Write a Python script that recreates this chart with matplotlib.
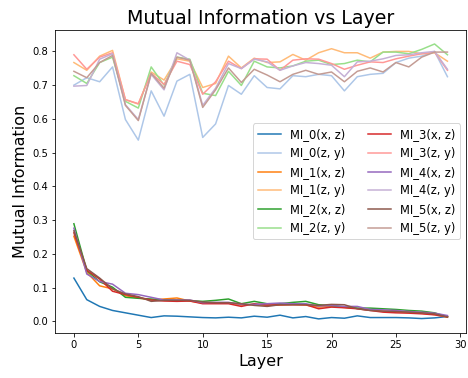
import numpy as np
import matplotlib
matplotlib.use('Agg')
import matplotlib.pyplot as plt

# data

layers = list(range(30))

mi0_xz = [0.128, 0.064, 0.044, 0.032, 0.025, 0.018, 0.011, 0.016, 0.015, 0.013,
          0.011, 0.010, 0.012, 0.010, 0.015, 0.012, 0.018, 0.010, 0.014, 0.007,
          0.011, 0.009, 0.016, 0.011, 0.011, 0.011, 0.010, 0.008, 0.010, 0.014]
mi0_zy = [0.700, 0.722, 0.710, 0.754, 0.598, 0.537, 0.683, 0.608, 0.712, 0.732,
          0.545, 0.585, 0.699, 0.673, 0.728, 0.693, 0.689, 0.728, 0.725, 0.732,
          0.728, 0.683, 0.725, 0.732, 0.735, 0.767, 0.780, 0.786, 0.800, 0.725]
mi1_xz = [0.252, 0.145, 0.105, 0.096, 0.076, 0.069, 0.063, 0.066, 0.069, 0.060,
          0.054, 0.054, 0.054, 0.048, 0.050, 0.047, 0.048, 0.050, 0.048, 0.042,
          0.044, 0.041, 0.038, 0.033, 0.030, 0.028, 0.026, 0.024, 0.020, 0.012]
mi1_zy = [0.767, 0.744, 0.786, 0.803, 0.657, 0.644, 0.739, 0.715, 0.778, 0.771,
          0.693, 0.705, 0.786, 0.751, 0.780, 0.767, 0.769, 0.791, 0.774, 0.796,
          0.808, 0.796, 0.796, 0.780, 0.798, 0.800, 0.800, 0.793, 0.796, 0.771]
mi2_xz = [0.289, 0.150, 0.117, 0.101, 0.071, 0.068, 0.066, 0.063, 0.062, 0.061,
          0.059, 0.062, 0.066, 0.052, 0.059, 0.052, 0.052, 0.056, 0.059, 0.049,
          0.046, 0.042, 0.039, 0.039, 0.037, 0.035, 0.032, 0.030, 0.025, 0.013]
mi2_zy = [0.728, 0.705, 0.767, 0.783, 0.652, 0.632, 0.754, 0.700, 0.783, 0.777,
          0.676, 0.669, 0.741, 0.699, 0.771, 0.754, 0.751, 0.757, 0.771, 0.774,
          0.761, 0.764, 0.774, 0.769, 0.798, 0.798, 0.793, 0.806, 0.822, 0.790]
mi3_xz = [0.262, 0.151, 0.125, 0.089, 0.079, 0.071, 0.063, 0.060, 0.059, 0.060,
          0.052, 0.052, 0.052, 0.044, 0.052, 0.048, 0.049, 0.049, 0.049, 0.037,
          0.042, 0.040, 0.037, 0.032, 0.027, 0.025, 0.024, 0.022, 0.019, 0.013]
mi3_zy = [0.790, 0.747, 0.783, 0.796, 0.657, 0.645, 0.735, 0.702, 0.771, 0.761,
          0.673, 0.710, 0.771, 0.749, 0.778, 0.777, 0.744, 0.774, 0.778, 0.777,
          0.764, 0.747, 0.759, 0.769, 0.767, 0.778, 0.786, 0.793, 0.798, 0.744]
mi4_xz = [0.276, 0.140, 0.118, 0.110, 0.083, 0.079, 0.071, 0.063, 0.063, 0.063,
          0.055, 0.056, 0.056, 0.050, 0.050, 0.052, 0.054, 0.052, 0.052, 0.045,
          0.047, 0.044, 0.044, 0.035, 0.034, 0.032, 0.029, 0.027, 0.024, 0.017]
mi4_zy = [0.697, 0.699, 0.777, 0.793, 0.642, 0.598, 0.732, 0.686, 0.796, 0.774,
          0.640, 0.691, 0.764, 0.749, 0.777, 0.769, 0.744, 0.757, 0.767, 0.764,
          0.759, 0.725, 0.769, 0.771, 0.778, 0.788, 0.790, 0.796, 0.800, 0.747]
mi5_xz = [0.268, 0.156, 0.128, 0.096, 0.081, 0.073, 0.059, 0.062, 0.062, 0.062,
          0.057, 0.055, 0.055, 0.052, 0.047, 0.044, 0.049, 0.049, 0.049, 0.047,
          0.050, 0.049, 0.037, 0.032, 0.030, 0.029, 0.027, 0.025, 0.022, 0.013]
mi5_zy = [0.741, 0.722, 0.767, 0.788, 0.640, 0.595, 0.735, 0.691, 0.783, 0.774,
          0.634, 0.686, 0.751, 0.708, 0.747, 0.730, 0.710, 0.732, 0.744, 0.732,
          0.739, 0.710, 0.741, 0.751, 0.739, 0.767, 0.754, 0.783, 0.798, 0.798]

series = [(mi0_xz, mi0_zy), (mi1_xz, mi1_zy), (mi2_xz, mi2_zy),
          (mi3_xz, mi3_zy), (mi4_xz, mi4_zy), (mi5_xz, mi5_zy)]

# plot

cmap = plt.get_cmap('tab20')
fig = plt.figure(figsize=(6.5, 5.25), dpi=72)
ax = fig.add_axes([0.118, 0.12, 0.878, 0.80])

for i, (xz, zy) in enumerate(series):
    ax.plot(layers, xz, color=cmap(2*i), label='MI_%d(x, z)' % i)
    ax.plot(layers, zy, color=cmap(2*i+1), label='MI_%d(z, y)' % i)

ax.set_title('Mutual Information vs Layer', fontsize=19)
ax.set_xlabel('Layer', fontsize=16)
ax.set_ylabel('Mutual Information', fontsize=16)
ax.legend(loc='center right', ncol=2, fontsize=11.5)

plt.savefig('out.png', dpi=72)
